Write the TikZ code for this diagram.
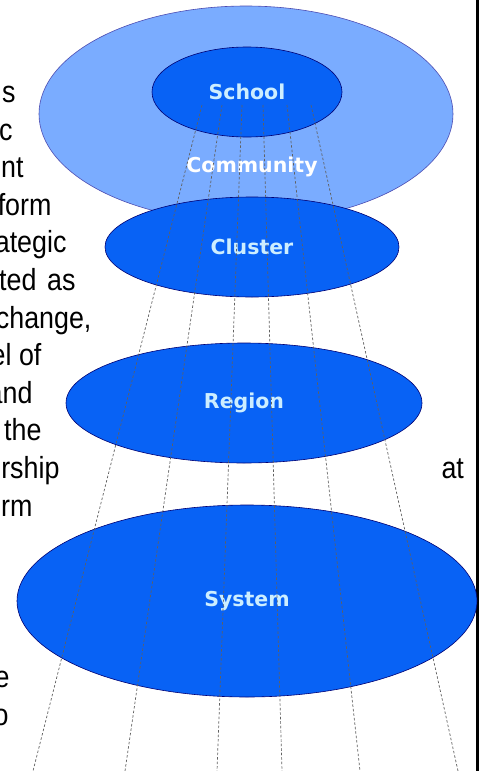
\documentclass[tikz,border=0pt]{standalone}
\usepackage{fontspec}
\setmainfont{Liberation Sans}
\newfontfamily\levelfont{DejaVu Sans}
\newfontfamily\bodyfont[FakeStretch=0.88]{Liberation Sans}
\usetikzlibrary{shapes.geometric}

\definecolor{outerblue}{RGB}{122,172,255}
\definecolor{innerblue}{RGB}{8,98,245}
\definecolor{labelblue}{RGB}{205,238,255}

\begin{document}
\begin{tikzpicture}[x=1pt,y=-1pt,
  level/.style={ellipse,draw=blue!45!black,line width=0.6pt,fill=innerblue,inner sep=0pt},
  levelname/.style={text=labelblue,font=\levelfont\bfseries\fontsize{20.5}{24}\selectfont},
  frag/.style={anchor=base east,font=\bodyfont\fontsize{30.5}{36}\selectfont},
  ray/.style={gray!75!black,line width=0.7pt,dash pattern=on 2.5pt off 2pt}]
\useasboundingbox (0,0) rectangle (482,771);
\clip (0,0) rectangle (482,771);
\fill[white] (0,0) rectangle (482,771);

% text running round the figure
\node[frag] (t1) at (19,102) {s};
\node[frag] (t2) at (16,140) {c};
\node[frag] (t3) at (27,177) {nt};
\node[frag] (t4) at (55,215) {form};
\node[frag] (t5) at (70,252) {ategic};
\node[frag] (t6) at (79,290) {ted\hspace{0.35em}as};
\node[frag] (t7) at (95,328) {change,};
\node[frag] (t8) at (45,365) {el of};
\node[frag] (t9) at (36,403) {and};
\node[frag] (t10) at (45,440) {the};
\node[frag] (t11) at (63,478) {ership};
\node[frag] (t12) at (36,516) {orm};
\node[frag] (t13) at (13,687) {e};
\node[frag] (t14) at (12,725) {o};
\node[frag,anchor=base west] (t15) at (438,478) {at};

\draw[line width=2.5pt] (477.5,0) -- (477.5,771);

\node[level,fill=outerblue,draw=gray!60!blue,minimum width=414,minimum height=216] (community) at (246,114) {};
\node[levelname,text=white] (communityname) at (252,167) {Community};
\node[level,levelname,minimum width=190,minimum height=90] (school) at (247,92) {School};
\node[level,levelname,minimum width=294,minimum height=100] (cluster) at (252,247) {Cluster};
\node[level,levelname,minimum width=356,minimum height=120] (region) at (244,403) {Region};
\node[level,levelname,minimum width=460,minimum height=192] (system) at (247,601) {System};

\coordinate (s1) at (202,105);
\coordinate (s2) at (222,105);
\coordinate (s3) at (242,105);
\coordinate (s4) at (263,105);
\coordinate (s5) at (287,105);
\coordinate (s6) at (311,105);
\coordinate (e1) at (33,771);
\coordinate (e2) at (125,771);
\coordinate (e3) at (217,771);
\coordinate (e4) at (282,771);
\coordinate (e5) at (360,771);
\coordinate (e6) at (458,771);
\draw[ray] (s1) -- (e1);
\draw[ray] (s2) -- (e2);
\draw[ray] (s3) -- (e3);
\draw[ray] (s4) -- (e4);
\draw[ray] (s5) -- (e5);
\draw[ray] (s6) -- (e6);
\end{tikzpicture}
\end{document}
